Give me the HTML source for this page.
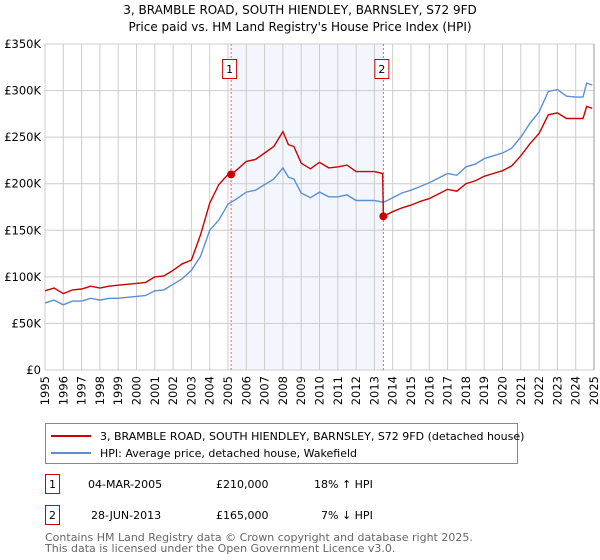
<!DOCTYPE html>
<html><head><meta charset="utf-8"><style>
body{margin:0;background:#fff;font-family:"Liberation Sans","DejaVu Sans",sans-serif;}
svg{display:block}
</style></head><body>
<svg id="c" width="600" height="560" xmlns="http://www.w3.org/2000/svg" font-family="DejaVu Sans, Liberation Sans, sans-serif">
<text x="300" y="14" text-anchor="middle" font-size="12" fill="#000">3, BRAMBLE ROAD, SOUTH HIENDLEY, BARNSLEY, S72 9FD</text>
<text x="300" y="31" text-anchor="middle" font-size="12" fill="#000">Price paid vs. HM Land Registry's House Price Index (HPI)</text>
<g id="plot"></g>
<g>
<rect x="45.5" y="423.5" width="472" height="40" fill="#fff" stroke="#888"/>
<line x1="51" y1="436" x2="91" y2="436" stroke="#cc0000" stroke-width="2"/>
<text x="100" y="440" font-size="11">3, BRAMBLE ROAD, SOUTH HIENDLEY, BARNSLEY, S72 9FD (detached house)</text>
<line x1="51" y1="453" x2="91" y2="453" stroke="#5b8fd4" stroke-width="2"/>
<text x="100" y="457" font-size="11">HPI: Average price, detached house, Wakefield</text>
</g>
<g font-size="11">
<rect x="45.5" y="474.5" width="14" height="19" fill="#fff" stroke="#cc0000"/>
<text x="52.5" y="488" text-anchor="middle">1</text>
<text x="88" y="488">04-MAR-2005</text>
<text x="216" y="488">£210,000</text>
<text x="314" y="488">18% ↑ HPI</text>
<rect x="45.5" y="505.5" width="14" height="19" fill="#fff" stroke="#cc0000"/>
<text x="52.5" y="519" text-anchor="middle">2</text>
<text x="91" y="519">28-JUN-2013</text>
<text x="216" y="519">£165,000</text>
<text x="321" y="519">7% ↓ HPI</text>
</g>
<text x="45" y="541" font-size="11" fill="#666">Contains HM Land Registry data © Crown copyright and database right 2025.</text>
<text x="45" y="552" font-size="11" fill="#666">This data is licensed under the Open Government Licence v3.0.</text>
</svg>
<script>
const hpiYears=[1995,1995.5,1996,1996.5,1997,1997.5,1998,1998.5,1999,1999.5,2000,2000.5,2001,2001.5,2002,2002.5,2003,2003.5,2004,2004.5,2005,2005.5,2006,2006.5,2007,2007.5,2008,2008.3,2008.6,2009,2009.5,2010,2010.5,2011,2011.5,2012,2012.5,2013,2013.5,2014,2014.5,2015,2015.5,2016,2016.5,2017,2017.5,2018,2018.5,2019,2019.5,2020,2020.5,2021,2021.5,2022,2022.5,2023,2023.5,2024,2024.4,2024.6,2024.9];
const hpiValues=[72,75,70,74,74,77,75,77,77,78,79,80,85,86,92,98,107,122,150,161,178,184,191,193,199,205,217,207,205,190,185,191,186,186,188,182,182,182,180,185,190,193,197,201,206,211,209,218,221,227,230,233,238,250,265,277,299,301,294,293,293,308,306];
const redYears=[1995,1995.5,1996,1996.5,1997,1997.5,1998,1998.5,1999,1999.5,2000,2000.5,2001,2001.5,2002,2002.5,2003,2003.5,2004,2004.5,2005,2005.17,2005.5,2006,2006.5,2007,2007.5,2008,2008.3,2008.6,2009,2009.5,2010,2010.5,2011,2011.5,2012,2012.5,2013,2013.45,2013.49,2014,2014.5,2015,2015.5,2016,2016.5,2017,2017.5,2018,2018.5,2019,2019.5,2020,2020.5,2021,2021.5,2022,2022.5,2023,2023.5,2024,2024.4,2024.6,2024.9];
const redValues=[85,88,82,86,87,90,88,90,91,92,93,94,100,101,107,114,118,145,179,199,210,210,215,224,226,233,240,256,242,240,222,216,223,217,218,220,213,213,213,211,165,170,174,177,181,184,189,194,192,200,203,208,211,214,219,230,243,254,274,276,270,270,270,283,281];
const yTicks=[0,50,100,150,200,250,300,350];
const yTickLabels=["£0","£50K","£100K","£150K","£200K","£250K","£300K","£350K"];
const xTicks=[1995,1996,1997,1998,1999,2000,2001,2002,2003,2004,2005,2006,2007,2008,2009,2010,2011,2012,2013,2014,2015,2016,2017,2018,2019,2020,2021,2022,2023,2024,2025];
const sales=[{n:"1",t:2005.17,v:210},{n:"2",t:2013.49,v:165}];
const X0=45,X1=594,Y0=370,Y1=44;
const xs=t=>X0+(t-1995)/30*(X1-X0);
const ys=v=>Y0-v/350*(Y0-Y1);
const NS="http://www.w3.org/2000/svg";
const g=document.getElementById('plot');
function mk(tag,attrs,parent){const e=document.createElementNS(NS,tag);for(const k in attrs)e.setAttribute(k,attrs[k]);(parent||g).appendChild(e);return e;}
let e=mk('rect',{x:xs(sales[0].t),y:Y1,width:xs(sales[1].t)-xs(sales[0].t),height:Y0-Y1,fill:'#eef3fc',opacity:0.7});


yTicks.forEach((v,i)=>{
 let l=mk('line',{x1:X0,x2:X1,y1:ys(v),y2:ys(v),stroke:'#cccccc'});
 
 
 let t=mk('text',{x:X0-4,y:ys(v)+4,'text-anchor':'end','font-size':'11.5'});
 
 
 t.textContent=yTickLabels[i];
});
xTicks.forEach(y=>{
 let l=mk('line',{x1:xs(y),x2:xs(y),y1:Y1,y2:Y0,stroke:'#cccccc'});
 
 
 let t=mk('text',{x:0,y:0,'text-anchor':'end','font-size':'11.5',transform:`translate(${xs(y)+4},${Y0+6}) rotate(-90)`});
 
 
 t.textContent=y;
});
sales.forEach(s=>{
 let l=mk('line',{x1:xs(s.t),x2:xs(s.t),y1:Y1,y2:Y0,stroke:'#e06666','stroke-dasharray':'2,2'});
 
 
});
const path=(xa,va)=>xa.map((t,i)=>(i?'L':'M')+xs(t).toFixed(1)+','+ys(va[i]).toFixed(1)).join('');
e=mk('path',{d:path(hpiYears,hpiValues),fill:'none',stroke:'#5b8fd4','stroke-width':1.4});


e=mk('path',{d:path(redYears,redValues),fill:'none',stroke:'#cc0000','stroke-width':1.4});


sales.forEach(s=>{
 let c=mk('circle',{cx:xs(s.t),cy:ys(s.v),r:4,fill:'#cc0000'});
 
 
 let r=mk('rect',{x:xs(s.t)-8.5,y:59.5,width:14,height:19,fill:'#fff',stroke:'#cc0000'});
 
 
 let t=mk('text',{x:xs(s.t)-1.5,y:73,'text-anchor':'middle','font-size':'11'});
 
 
 t.textContent=s.n;
});
e=mk('line',{x1:X1,x2:X1,y1:Y1,y2:Y0,stroke:'#999'});


</script>
</body></html>
